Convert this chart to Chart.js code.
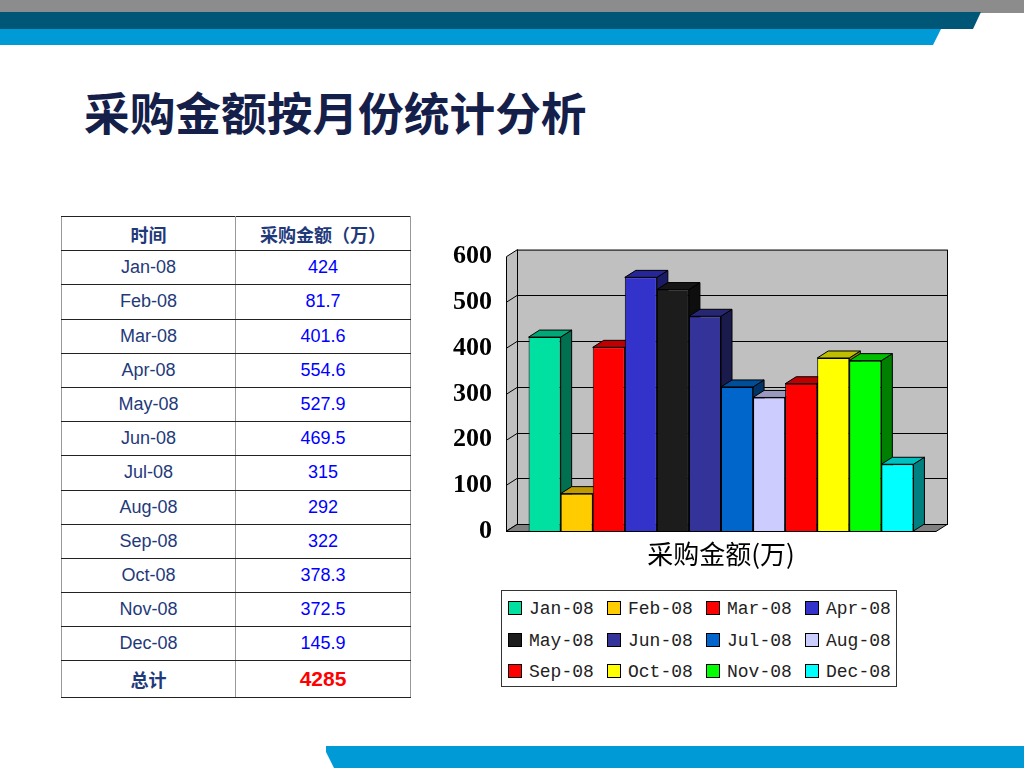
<!DOCTYPE html>
<html>
<head>
<meta charset="utf-8">
<script src="https://cdn.jsdelivr.net/npm/chart.js@4"></script>
<style>
  body { margin: 0; width: 1024px; height: 768px; position: relative; background: #fff; overflow: hidden; font-family: "Liberation Sans", Arial, sans-serif; }
  .band { position: absolute; }
  #title { position: absolute; left: 84px; top: 83px; font-family: "Noto Sans CJK SC"; font-weight: 700; font-size: 45.7px; line-height: 56px; color: #14204a; white-space: nowrap; }
  #tbl { position: absolute; left: 61px; top: 216px; width: 349px; border-collapse: collapse; table-layout: fixed; }
  #tbl td { height: 33.2px; padding: 0; text-align: center; font-size: 18px; border-top: 1px solid #222; border-bottom: 1px solid #222; border-left: 1px solid #999; border-right: 1px solid #999; }
  #tbl td.m { color: #1f3a7a; }
  #tbl td.v { color: #0000ff; }
  #tbl tr.head td { font-family: "Noto Sans CJK SC"; font-weight: 700; color: #1f3a7a; font-size: 18px; }
  #tbl tr.sum td { height: 36px; }
  #chartBox { position: absolute; left: 445px; top: 235px; width: 560px; height: 340px; }
  #legend { position: absolute; left: 501px; top: 590px; width: 394px; height: 95px; border: 1px solid #333; box-sizing: content-box; }
  .li { position: absolute; font-family: "Liberation Mono", monospace; font-size: 18px; color: #222; line-height: 20px; white-space: nowrap; }
  .li span { display: inline-block; width: 12px; height: 12px; border: 1px solid #000; vertical-align: -1px; margin-right: 7px; }
</style>
</head>
<body>
<div class="band" style="left:0;top:0;width:1024px;height:13px;background:#8c8c8c"></div>
<div class="band" style="left:0;top:12px;width:981px;height:17px;background:#005677;clip-path:polygon(0 0,100% 0,calc(100% - 8px) 100%,0 100%)"></div>
<div class="band" style="left:0;top:29px;width:941px;height:16px;background:#009ad6;clip-path:polygon(0 0,100% 0,calc(100% - 8px) 100%,0 100%)"></div>
<div class="band" style="left:326px;top:746px;width:698px;height:22px;background:#009ad6;clip-path:polygon(0 0,100% 0,100% 100%,8px 100%,0 6px)"></div>

<div id="title">采购金额按月份统计分析</div>

<table id="tbl"><colgroup><col style="width:174px"><col style="width:175px"></colgroup><tbody id="tbody"></tbody></table>

<div id="chartBox"><canvas id="chart3d" width="560" height="340"></canvas></div>
<div id="legend"></div>

<script>
const months = ['Jan-08', 'Feb-08', 'Mar-08', 'Apr-08', 'May-08', 'Jun-08', 'Jul-08', 'Aug-08', 'Sep-08', 'Oct-08', 'Nov-08', 'Dec-08']
const amounts = [424, 81.7, 401.6, 554.6, 527.9, 469.5, 315, 292, 322, 378.3, 372.5, 145.9]
const category = ['采购金额(万)']
const colors = ['#00e0a0', '#ffcc00', '#ff0000', '#3333cc', '#1c1c1c', '#333399', '#0066cc', '#ccccff', '#ff0000', '#ffff00', '#00ff00', '#00ffff']
const yMax = 600
const yStep = 100

// table
const tbody = document.getElementById('tbody')
let html = '<tr class="head"><td>时间</td><td>采购金额（万）</td></tr>'
let total = 0
for (var i = 0; i < months.length; i++) {
  total += amounts[i]
  html += '<tr><td class="m">' + months[i] + '</td><td class="v">' + amounts[i] + '</td></tr>'
}
html += '<tr class="sum"><td style="font-family:\'Noto Sans CJK SC\';font-weight:700;color:#1f3a7a">总计</td>' +
        '<td style="color:#ff0000;font-weight:700;font-size:21px">' + Math.round(total) + '</td></tr>'
tbody.innerHTML = html

// legend
const legend = document.getElementById('legend')
for (var i = 0; i < months.length; i++) {
  const d = document.createElement('div')
  d.className = 'li'
  d.style.left = (6 + (i % 4) * 99) + 'px'
  d.style.top = (8 + Math.floor(i / 4) * 31.5) + 'px'
  d.innerHTML = '<span style="background:' + colors[i] + '"></span>' + months[i]
  legend.appendChild(d)
}

function shade(hex, f) {
  const n = parseInt(hex.slice(1), 16)
  const r = Math.round(((n >> 16) & 255) * f)
  const g = Math.round(((n >> 8) & 255) * f)
  const b = Math.round((n & 255) * f)
  return 'rgb(' + r + ',' + g + ',' + b + ')'
}

const DX = 11, DY = -7

const box3d = {
  id: 'box3d',
  beforeDatasetsDraw(chart) {
    const ctx = chart.ctx
    const ca = chart.chartArea
    const ys = chart.scales.y
    ctx.save()
    ctx.lineWidth = 1
    ctx.strokeStyle = '#000'
    // back wall
    ctx.fillStyle = '#c0c0c0'
    ctx.fillRect(ca.left + DX, ca.top + DY, ca.right - ca.left, ca.bottom - ca.top)
    ctx.strokeRect(ca.left + DX + 0.5, ca.top + DY + 0.5, ca.right - ca.left, ca.bottom - ca.top)
    // left wall
    ctx.beginPath()
    ctx.moveTo(ca.left + 0.5, ca.top)
    ctx.lineTo(ca.left + DX + 0.5, ca.top + DY)
    ctx.lineTo(ca.left + DX + 0.5, ca.bottom + DY)
    ctx.lineTo(ca.left + 0.5, ca.bottom)
    ctx.closePath()
    ctx.fillStyle = '#c0c0c0'
    ctx.fill()
    ctx.stroke()
    // grid lines
    for (let v = yStep; v < yMax; v += yStep) {
      const y = Math.round(ys.getPixelForValue(v)) + 0.5
      ctx.beginPath()
      ctx.moveTo(ca.left, y)
      ctx.lineTo(ca.left + DX, y + DY)
      ctx.lineTo(ca.right + DX, y + DY)
      ctx.stroke()
    }
    // floor
    ctx.beginPath()
    ctx.moveTo(ca.left, ca.bottom + 0.5)
    ctx.lineTo(ca.right, ca.bottom + 0.5)
    ctx.lineTo(ca.right + DX, ca.bottom + DY + 0.5)
    ctx.lineTo(ca.left + DX, ca.bottom + DY + 0.5)
    ctx.closePath()
    ctx.fillStyle = '#808080'
    ctx.fill()
    ctx.stroke()
    // bar sides and tops
    chart.data.datasets.forEach((ds, di) => {
      const bar = chart.getDatasetMeta(di).data[0]
      const p = bar.getProps(['x', 'y', 'base', 'width'], true)
      const l = p.x - p.width / 2, r = p.x + p.width / 2
      ctx.beginPath()
      ctx.moveTo(r, p.y)
      ctx.lineTo(r + DX, p.y + DY)
      ctx.lineTo(r + DX, p.base + DY)
      ctx.lineTo(r, p.base)
      ctx.closePath()
      ctx.fillStyle = shade(colors[di], 0.5)
      ctx.fill()
      ctx.stroke()
      ctx.beginPath()
      ctx.moveTo(l, p.y)
      ctx.lineTo(l + DX, p.y + DY)
      ctx.lineTo(r + DX, p.y + DY)
      ctx.lineTo(r, p.y)
      ctx.closePath()
      ctx.fillStyle = shade(colors[di], 0.75)
      ctx.fill()
      ctx.stroke()
    })
    ctx.restore()
  }
}

new Chart(document.getElementById('chart3d'), {
  type: 'bar',
  data: {
    labels: category,
    datasets: months.map((m, i) => ({
      label: m,
      data: [amounts[i]],
      backgroundColor: colors[i],
      borderColor: '#000',
      borderWidth: 1,
      categoryPercentage: 0.895,
      barPercentage: 1.0
    }))
  },
  options: {
    responsive: false,
    animation: false,
    layout: { padding: { top: 17, right: 69, left: 0, bottom: 0 } },
    plugins: { legend: { display: false }, tooltip: { enabled: false } },
    scales: {
      x: {
        grid: { display: false },
        border: { display: false },
        ticks: { color: '#000', padding: 0, font: { family: 'Noto Sans CJK SC', size: 26 } },
        afterFit: s => { s.height = 44 }
      },
      y: {
        min: 0,
        max: yMax,
        grid: { display: false },
        border: { display: false },
        ticks: { stepSize: yStep, color: '#000', padding: 6, font: { family: 'Liberation Serif', size: 26, weight: 'bold' } },
        afterFit: s => { s.width = 61 }
      }
    }
  },
  plugins: [box3d]
})
</script>
</body>
</html>
